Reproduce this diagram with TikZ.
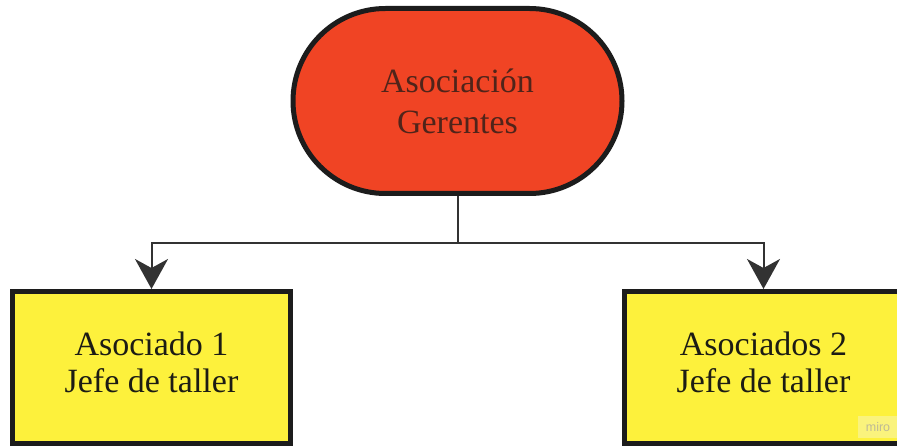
\documentclass[tikz,border=0pt]{standalone}
\usepackage{fontspec}
\setmainfont{Liberation Serif}
\newfontfamily\wmfont{Liberation Sans}
\usetikzlibrary{arrows.meta}
\definecolor{topred}{RGB}{240,68,36}
\definecolor{boxyellow}{RGB}{253,241,60}
\definecolor{edgeblack}{RGB}{28,28,28}
\definecolor{linegray}{RGB}{50,50,50}
\definecolor{toptext}{RGB}{80,36,26}
\definecolor{boxtext}{RGB}{28,28,20}
\definecolor{wmfill}{RGB}{250,243,125}
\definecolor{wmtext}{RGB}{190,186,150}
\tikzset{
  stadium/.style={draw=edgeblack, line width=5pt, fill=topred, rounded corners=92.5pt,
    minimum width=329pt, minimum height=185pt, align=center, text=toptext,
    font=\fontsize{34}{41}\selectfont},
  assocbox/.style={draw=edgeblack, line width=5pt, fill=boxyellow,
    minimum width=278pt, minimum height=152pt, align=center, text=boxtext,
    text depth=10pt, font=\fontsize{34}{37}\selectfont},
  conn/.style={draw=linegray, line width=2pt},
  arrowconn/.style={conn, -{Stealth[length=30pt, width=33pt, inset=9pt]}, color=linegray},
  watermark/.style={fill=wmfill, text=wmtext, inner sep=0pt, minimum width=40pt,
    minimum height=22pt, font=\wmfont\fontsize{12.5}{12.5}\selectfont}
}
\begin{document}
\begin{tikzpicture}[x=1pt, y=-1pt]
\useasboundingbox (0,0) rectangle (897,446);
\clip (0,0) rectangle (897,446);
\node[stadium] (top) at (457.5,101) {Asociación\\Gerentes};
\node[assocbox] (a1) at (151.5,367.5) {Asociado 1\\Jefe de taller};
\node[assocbox] (a2) at (763.5,367.5) {Asociados 2\\Jefe de taller};
\coordinate (junc) at (457.5,243);
\draw[conn] (top.south) -- (junc);
\draw[arrowconn] (junc) -| (a1.north);
\draw[arrowconn] (junc) -| (a2.north);
\node[watermark] (wm) at (878,427) {miro};
\end{tikzpicture}
\end{document}
